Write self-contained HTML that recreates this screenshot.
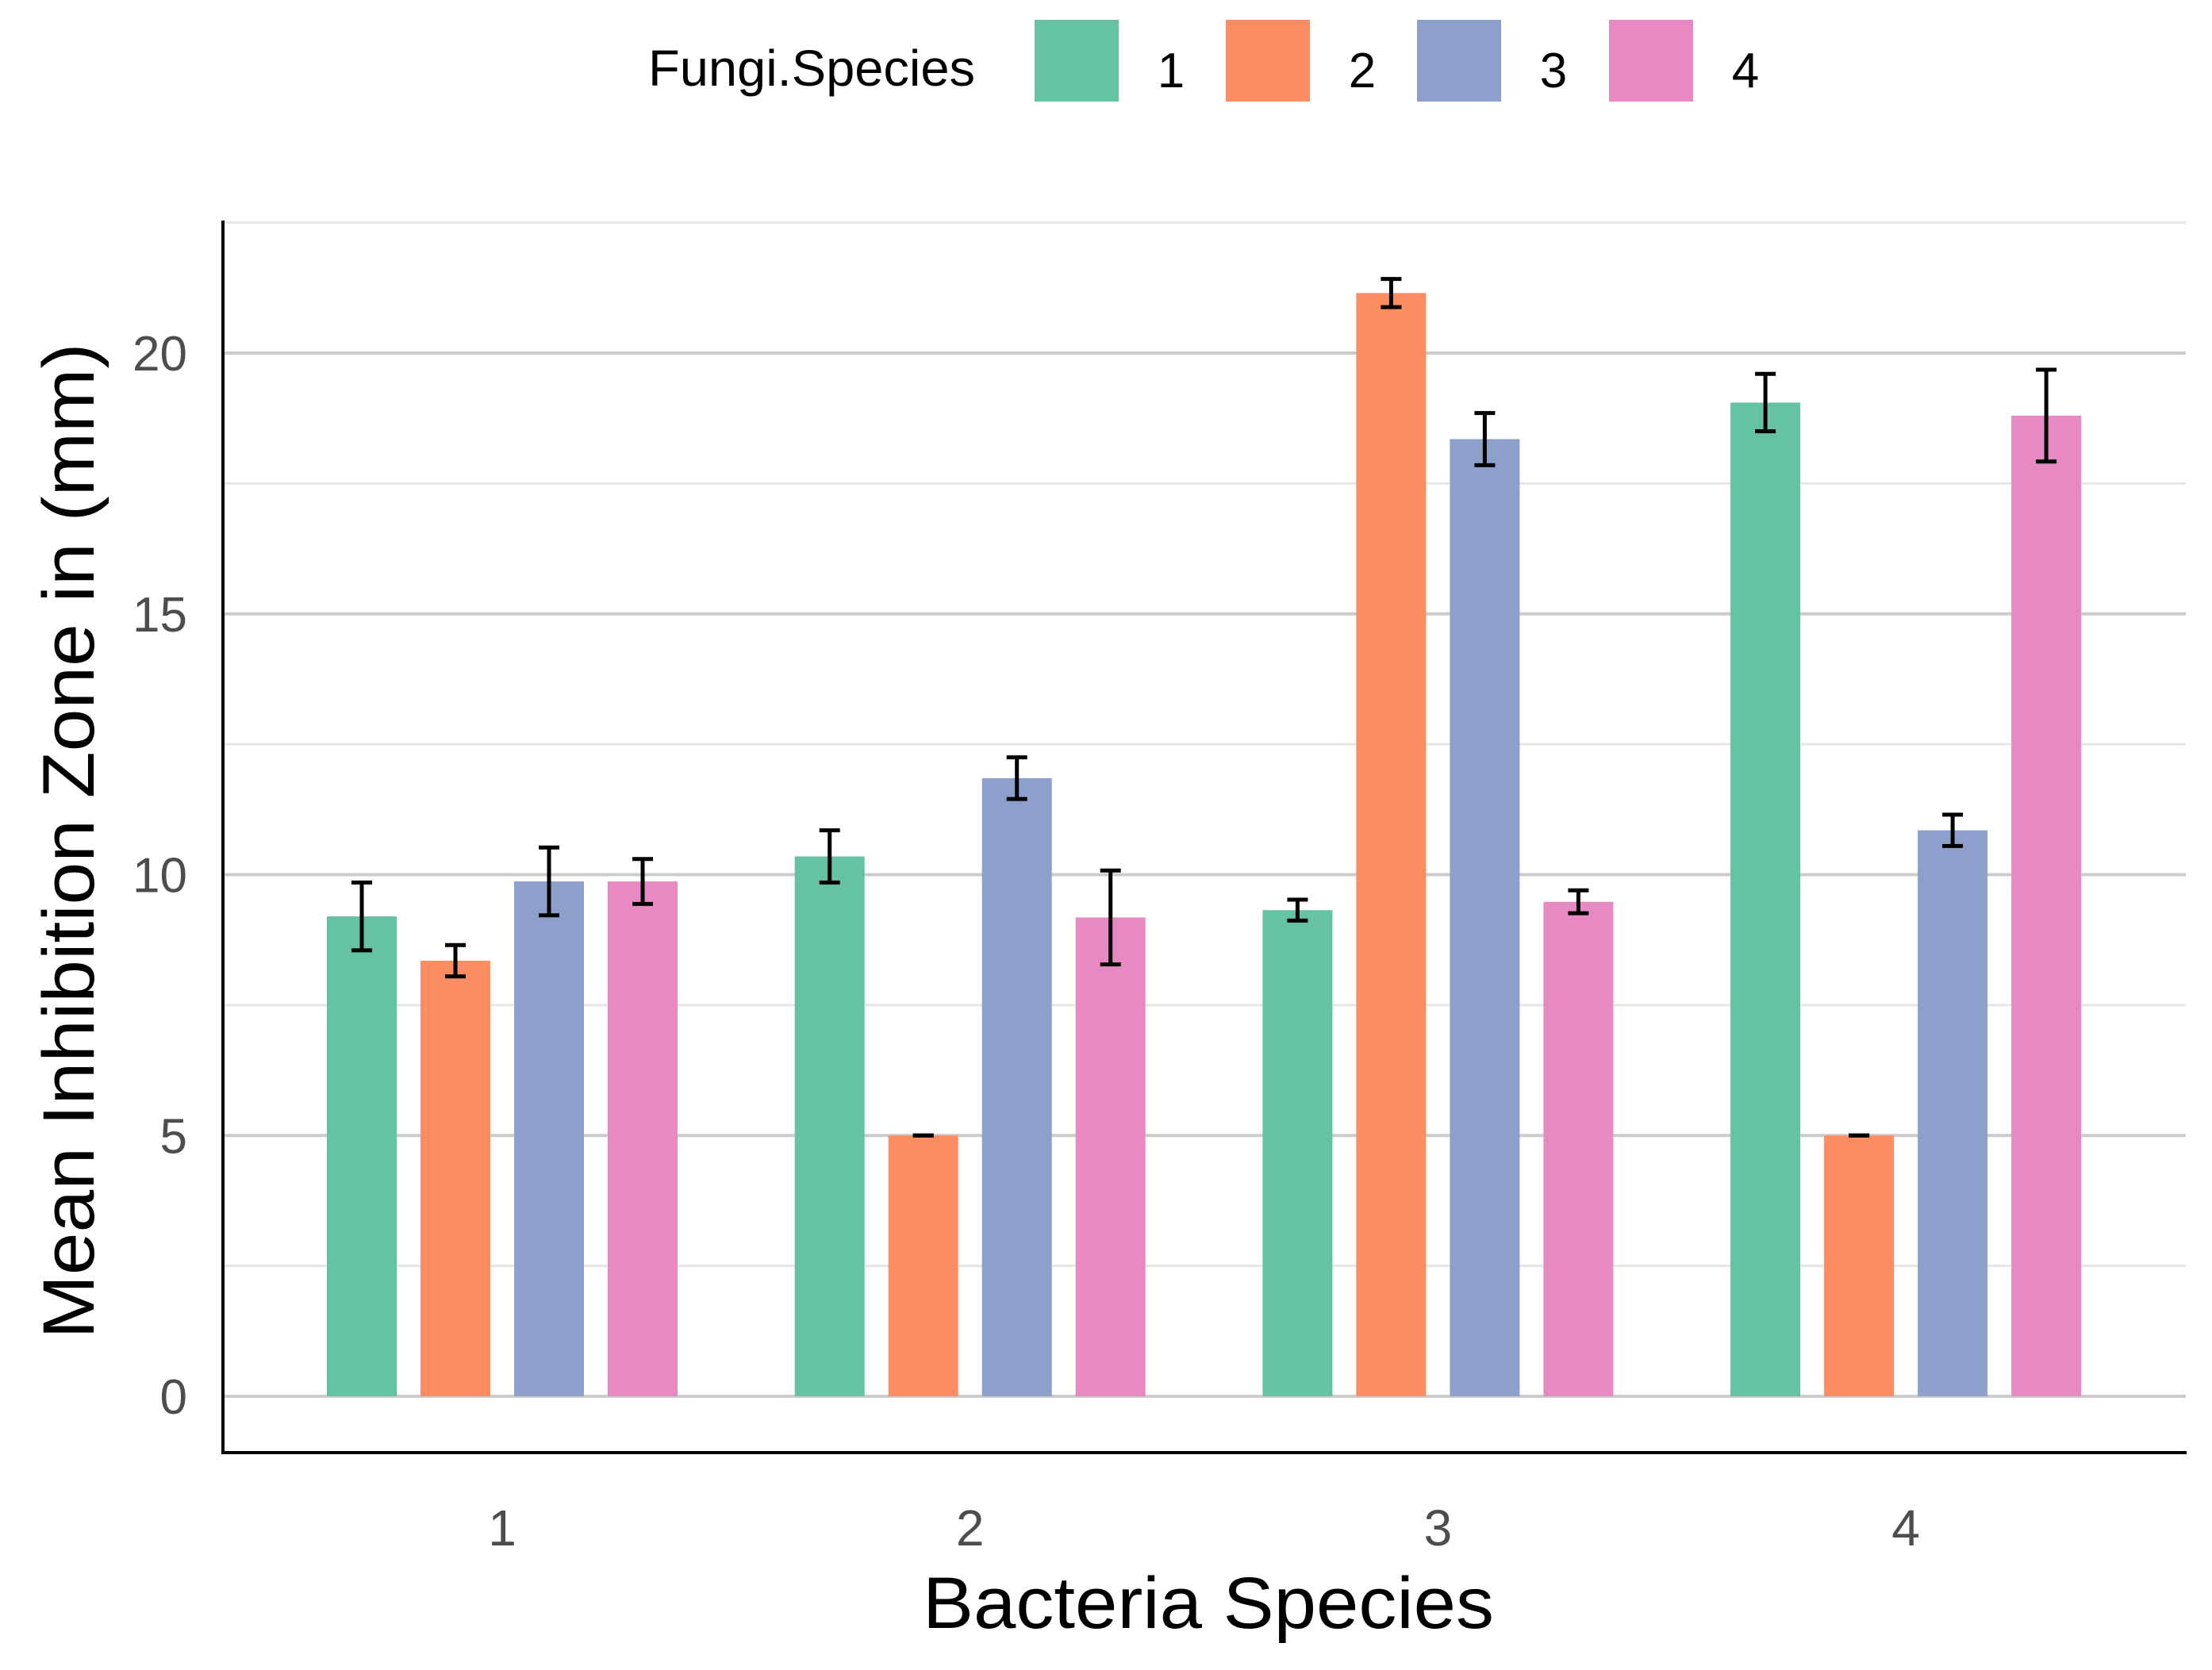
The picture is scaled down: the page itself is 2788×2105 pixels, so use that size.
<!DOCTYPE html>
<html><head><meta charset="utf-8"><style>
html,body{margin:0;padding:0;background:#fff;}
svg{display:block;font-family:"Liberation Sans",sans-serif;}
</style></head><body>
<svg id="chart" width="2788" height="2105" viewBox="0 0 2788 2105" xmlns="http://www.w3.org/2000/svg">
<rect width="2788" height="2105" fill="#fff"/>
<g id="grid"></g>
<g id="bars"></g>
<g id="errs"></g>
<line x1="281" y1="278" x2="281" y2="1833" stroke="#000" stroke-width="4"/>
<line x1="279" y1="1831" x2="2756" y2="1831" stroke="#000" stroke-width="4"/>
<g id="yticks"></g>
<g id="xticks"></g>
<text transform="translate(118,1060) rotate(-90)" text-anchor="middle" font-size="92" textLength="1255" lengthAdjust="spacingAndGlyphs" fill="#000">Mean Inhibition Zone in (mm)</text>
<text x="1523" y="2052" text-anchor="middle" font-size="92" textLength="720" lengthAdjust="spacingAndGlyphs" fill="#000">Bacteria Species</text>
<g id="legend">
<text x="817" y="108" font-size="64" textLength="412" lengthAdjust="spacingAndGlyphs" fill="#000">Fungi.Species</text>
</g>
</svg>
<script>
const categories = ["1","2","3","4"];
const seriesNames = ["1","2","3","4"];
const series1 = [9.2, 10.35, 9.32, 19.05];
const series2 = [8.35, 5.0, 21.15, 5.0];
const series3 = [9.87, 11.85, 18.35, 10.85];
const series4 = [9.87, 9.18, 9.48, 18.8];
const err1 = [0.65, 0.5, 0.2, 0.55];
const err2 = [0.3, 0.0, 0.27, 0.0];
const err3 = [0.65, 0.4, 0.5, 0.3];
const err4 = [0.43, 0.9, 0.22, 0.88];
const yTicks = [0, 5, 10, 15, 20];
const yMinor = [2.5, 7.5, 12.5, 17.5, 22.5];
const colors = ["#66c2a5","#fc8d62","#8da0cb","#e78ac3"];

const NS = "http://www.w3.org/2000/svg";
const y = v => 1760 - v * 65.75;
const xGroup = i => 633 + i * 589.7;
const barStep = 118, barW = 88;
const xBar = (i, s) => xGroup(i) + (s - 1.5) * barStep;
function mk(tag, attrs, parent){const e=document.createElementNS(NS,tag);for(const k in attrs)e.setAttribute(k,attrs[k]);parent.appendChild(e);return e;}

const grid = document.getElementById('grid');
yMinor.forEach(v=>{
  const l = mk('line',{x1:283,x2:2755,y1:y(v),y2:y(v),stroke:'#e6e6e6','stroke-width':3},grid);
  
  
});
yTicks.forEach(v=>{
  const l = mk('line',{x1:283,x2:2755,y1:y(v),y2:y(v),stroke:'#cccccc','stroke-width':4},grid);
  
  
});
const yt = document.getElementById('yticks');
yTicks.forEach(v=>{
  const t = mk('text',{x:236,y:y(v)+22,'text-anchor':'end','font-size':62,fill:'#4d4d4d'},yt);
  t.textContent = v;
  
  
});
const xt = document.getElementById('xticks');
categories.forEach((c,i)=>{
  const t = mk('text',{x:xGroup(i),y:1948,'text-anchor':'middle','font-size':64,fill:'#4d4d4d'},xt);
  t.textContent = c;
  
  
});
const allSeries = [series1, series2, series3, series4];
const allErr = [err1, err2, err3, err4];
const bars = document.getElementById('bars');
const errs = document.getElementById('errs');
allSeries.forEach((ser,s)=>{
  ser.forEach((v,i)=>{
    const cx = xBar(i,s);
    const r = mk('rect',{x:cx-barW/2,y:y(v),width:barW,height:y(0)-y(v),fill:colors[s]},bars);
    
    
    const e = allErr[s][i];
    const g = mk('g',{stroke:'#000','stroke-width':5,fill:'none'},errs);
    
    
    mk('line',{x1:cx,x2:cx,y1:y(v+e),y2:y(v-e)},g);
    mk('line',{x1:cx-13,x2:cx+13,y1:y(v+e),y2:y(v+e)},g);
    mk('line',{x1:cx-13,x2:cx+13,y1:y(v-e),y2:y(v-e)},g);
  });
});
const leg = document.getElementById('legend');
const keyX = [1304, 1545, 1786, 2028];
seriesNames.forEach((n,s)=>{
  const r = mk('rect',{x:keyX[s],y:25,width:106,height:103,fill:colors[s]},leg);
  
  
  const t = mk('text',{x:keyX[s]+172,y:110,'text-anchor':'middle','font-size':62,fill:'#000'},leg);
  t.textContent = n;
  
  
});
</script>
</body></html>
